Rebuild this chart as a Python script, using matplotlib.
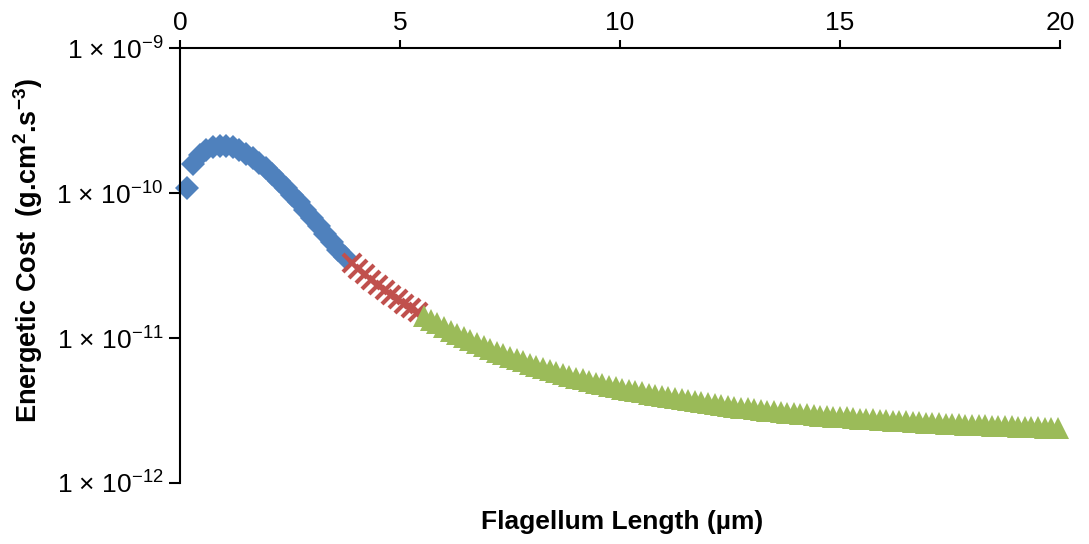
import numpy as np
import matplotlib
matplotlib.use("Agg")
import matplotlib.pyplot as plt
from matplotlib.ticker import FixedLocator

plt.rcParams['font.family'] = ['Liberation Sans', 'DejaVu Sans']
plt.rcParams['mathtext.fontset'] = 'custom'
plt.rcParams['mathtext.rm'] = 'Liberation Sans'
plt.rcParams['mathtext.it'] = 'Liberation Sans:italic'
plt.rcParams['mathtext.bf'] = 'Liberation Sans:bold'

# ---- data (energetic cost in units of 1e-12 g.cm^2.s^-3) ----
step = 0.15
blue_x = np.round(np.arange(1, 26) * step, 2)          # 0.15 .. 3.75
red_x = np.round(np.arange(26, 37) * step, 2)          # 3.90 .. 5.40
green_x = np.round(np.arange(37, 134) * step, 2)       # 5.55 .. 19.95

blue_y = [108.3, 158.5, 182.8, 198.0, 207.6, 210.9, 210.9, 206.0, 198.0, 185.8,
          174.3, 161.0, 147.6, 134.2, 121.0, 108.3, 96.9, 86.0, 76.3, 67.2,
          59.2, 52.1, 45.9, 40.4, 36.2]
red_y = [32.9, 30.0, 27.5, 25.2, 23.2, 21.4, 19.9, 18.5, 17.2, 16.1, 15.1]
green_y = [14.20, 13.36, 12.59, 11.90, 11.26, 10.69, 10.15, 9.67, 9.22, 8.81,
           8.43, 8.07, 7.75, 7.44, 7.16, 6.90, 6.66, 6.43, 6.22, 6.02,
           5.83, 5.66, 5.49, 5.34, 5.19, 5.06, 4.93, 4.81, 4.69, 4.59,
           4.48, 4.39, 4.30, 4.21, 4.13, 4.05, 3.97, 3.90, 3.84, 3.77,
           3.71, 3.65, 3.60, 3.54, 3.49, 3.45, 3.40, 3.36, 3.31, 3.27,
           3.23, 3.20, 3.16, 3.13, 3.09, 3.06, 3.03, 3.00, 2.97, 2.95,
           2.92, 2.90, 2.87, 2.85, 2.83, 2.81, 2.78, 2.76, 2.75, 2.73,
           2.71, 2.69, 2.67, 2.66, 2.64, 2.63, 2.61, 2.60, 2.58, 2.57,
           2.56, 2.55, 2.53, 2.52, 2.51, 2.50, 2.49, 2.48, 2.47, 2.46,
           2.45, 2.44, 2.43, 2.42, 2.41, 2.40, 2.40]
unit = 1e-12

x_ticks = [0, 5, 10, 15, 20]
y_ticks = [1e-12, 1e-11, 1e-10, 1e-9]
y_tick_labels = [r"1 × 10$^{-12}$", r"1 × 10$^{-11}$", r"1 × 10$^{-10}$", r"1 × 10$^{-9}$"]
x_label = "Flagellum Length (µm)"
y_label = r"Energetic Cost  (g.cm$^{\mathbf{2}}$.s$^{\mathbf{-3}}$)"

BLUE = "#4F81BD"
RED = "#C0504D"
GREEN = "#9BBB59"

fig = plt.figure(figsize=(10.89, 5.44), dpi=100)
ax = fig.add_axes([180/1089, 1 - 483/544, 880/1089, 435/544])

ax.plot(blue_x, np.array(blue_y) * unit, linestyle='none', marker='D',
        ms=12, mfc=BLUE, mec=BLUE, mew=0, clip_on=False)
ax.plot(red_x, np.array(red_y) * unit, linestyle='none', marker='x',
        ms=12.5, mec=RED, mew=3.0, clip_on=False)
ax.plot(green_x, np.array(green_y) * unit, linestyle='none', marker='^',
        ms=15.5, mfc=GREEN, mec=GREEN, mew=0, clip_on=False)

ax.set_yscale('log')
ax.set_xlim(0, 20)
ax.set_ylim(1e-12, 1e-9)
ax.yaxis.set_major_locator(FixedLocator(y_ticks))
ax.yaxis.set_minor_locator(FixedLocator([]))
ax.set_yticks(y_ticks)
ax.set_yticklabels(y_tick_labels)
ax.set_xticks(x_ticks)
ax.set_xticklabels([str(t) for t in x_ticks])

ax.xaxis.tick_top()
ax.spines['bottom'].set_visible(False)
ax.spines['right'].set_visible(False)
for s in ('top', 'left'):
    ax.spines[s].set_linewidth(1.5)
    ax.spines[s].set_color('black')
ax.tick_params(axis='x', which='major', direction='out', length=6, width=1.5,
               labelsize=19, pad=3, top=True, bottom=False)
ax.tick_params(axis='y', which='major', direction='out', length=8, width=1.5,
               labelsize=19, pad=4)
ax.tick_params(axis='y', which='minor', length=0)

fig.text(28/1089, 1 - 250/544, y_label, rotation=90, ha='center', va='center',
         fontsize=19.5, fontweight='bold')
fig.text(622/1089, 1 - 522/544, x_label, ha='center', va='center',
         fontsize=19, fontweight='bold')

fig.savefig("out.png", dpi=100, facecolor='white')
